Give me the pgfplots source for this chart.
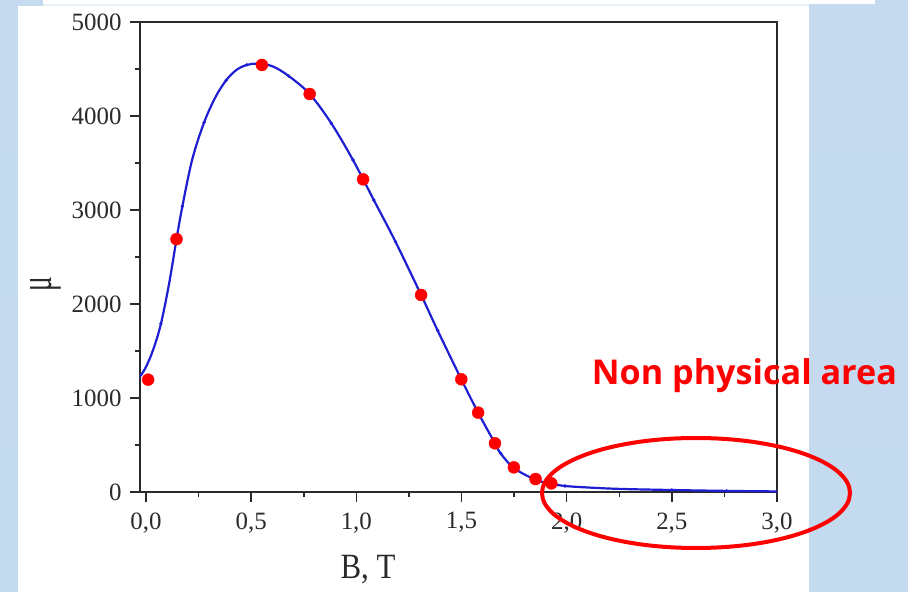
\documentclass[border=0pt]{standalone}
\usepackage{pgfplots}
\pgfplotsset{compat=1.18}
\usepackage{fontspec}
\setmainfont{Liberation Serif}
\newfontfamily\opensans{Open Sans}
\definecolor{bgA}{HTML}{C6DBEF}
\definecolor{bgB}{HTML}{B8D3EC}
\definecolor{bgC}{HTML}{C4DAEF}
\definecolor{panelLine}{HTML}{E8F0FA}
\definecolor{curveblue}{RGB}{30,30,210}
\definecolor{axisgray}{HTML}{2A2A2A}
\begin{document}
\begin{tikzpicture}
\begin{scope}[x=1bp,y=1bp]
\shade[top color=bgA, middle color=bgB, bottom color=bgC] (0,0) rectangle (908,592);
\fill[white] (18,0) rectangle (809,586);
\fill[white] (43,588) rectangle (875,592);
\fill[panelLine] (43,586) rectangle (809,588);
\end{scope}
\begin{axis}[
  width=637bp, height=470bp, scale only axis,
  at={(140bp,100bp)}, anchor=south west,
  xmin=-0.0286, xmax=3.0, ymin=0, ymax=5000,
  xtick={0,0.5,1,1.5,2,2.5,3},
  ytick={0,1000,2000,3000,4000,5000},
  minor x tick num=1, minor y tick num=1,
  xtick pos=bottom, ytick pos=left,
  tick align=outside,
  major tick length=10bp, minor tick length=5bp,
  tick style={draw=axisgray, line width=1.5bp},
  axis line style={draw=axisgray, line width=2bp},
  /pgf/number format/assume math mode=true,
  xticklabel style={/pgf/number format/.cd, use comma, fixed, fixed zerofill, precision=1, /tikz/.cd, yshift=-7bp},
  yticklabel style={/pgf/number format/.cd, 1000 sep={}, /tikz/.cd, xshift=-5bp},
  ticklabel style={font=\fontsize{25}{25}\selectfont, text=axisgray},
  xlabel={\scalebox{1}[1.15]{B, T}},
  xlabel style={at={([yshift=-78bp]rel axis cs:0.358,0)}, anchor=center, font=\fontsize{31}{31}\selectfont, text=axisgray},
  ylabel={\scalebox{0.6}[1]{\fontsize{46}{46}\selectfont μ}},
  ylabel style={at={([xshift=-94bp]rel axis cs:0,0.4426)}, anchor=center, text=axisgray},
  clip=false,
]
\addplot[curveblue, line width=2.2bp, smooth, tension=0.55, no marks] coordinates {
(-0.028,1230) (0.0,1330) (0.035,1520) (0.071,1790) (0.11,2220) (0.145,2690)
(0.173,3040) (0.22,3540) (0.276,3930) (0.33,4200) (0.381,4380) (0.43,4490)
(0.479,4543) (0.53,4556) (0.60,4530) (0.678,4426) (0.778,4234) (0.881,3922) (0.984,3532)
(1.083,3106) (1.186,2663) (1.308,2096) (1.387,1716) (1.499,1199) (1.579,844)
(1.659,518) (1.686,411) (1.749,255) (1.852,130) (1.927,88) (1.992,64) (2.1,48)
(2.25,33) (2.5,21) (2.75,12) (3.0,6)
};
\addplot[only marks, mark=*, mark size=1.5bp, curveblue] coordinates {
(0.071,1790) (0.173,3040) (0.276,3930) (0.381,4380) (0.479,4543) (0.678,4426)
(0.881,3922) (0.984,3532) (1.083,3106) (1.186,2663) (1.387,1716) (1.686,411)
(1.992,64) (2.5,21) (2.76,12)
};
\addplot[only marks, mark=*, mark size=6bp, red, draw=none] coordinates {
(0.01,1195) (0.145,2690) (0.551,4543) (0.778,4234) (1.032,3326) (1.308,2096)
(1.499,1199) (1.579,844) (1.659,518) (1.749,262) (1.852,138) (1.927,92)
};
\end{axis}
\begin{scope}[x=1bp,y=1bp]
\draw[red, line width=4bp] (696,99) ellipse [x radius=154, y radius=55];
\node[anchor=base west, text=red, inner sep=0pt] at (591.7,207) {\resizebox{305bp}{!}{\opensans\bfseries Non physical area}};
\end{scope}
\end{tikzpicture}
\end{document}
